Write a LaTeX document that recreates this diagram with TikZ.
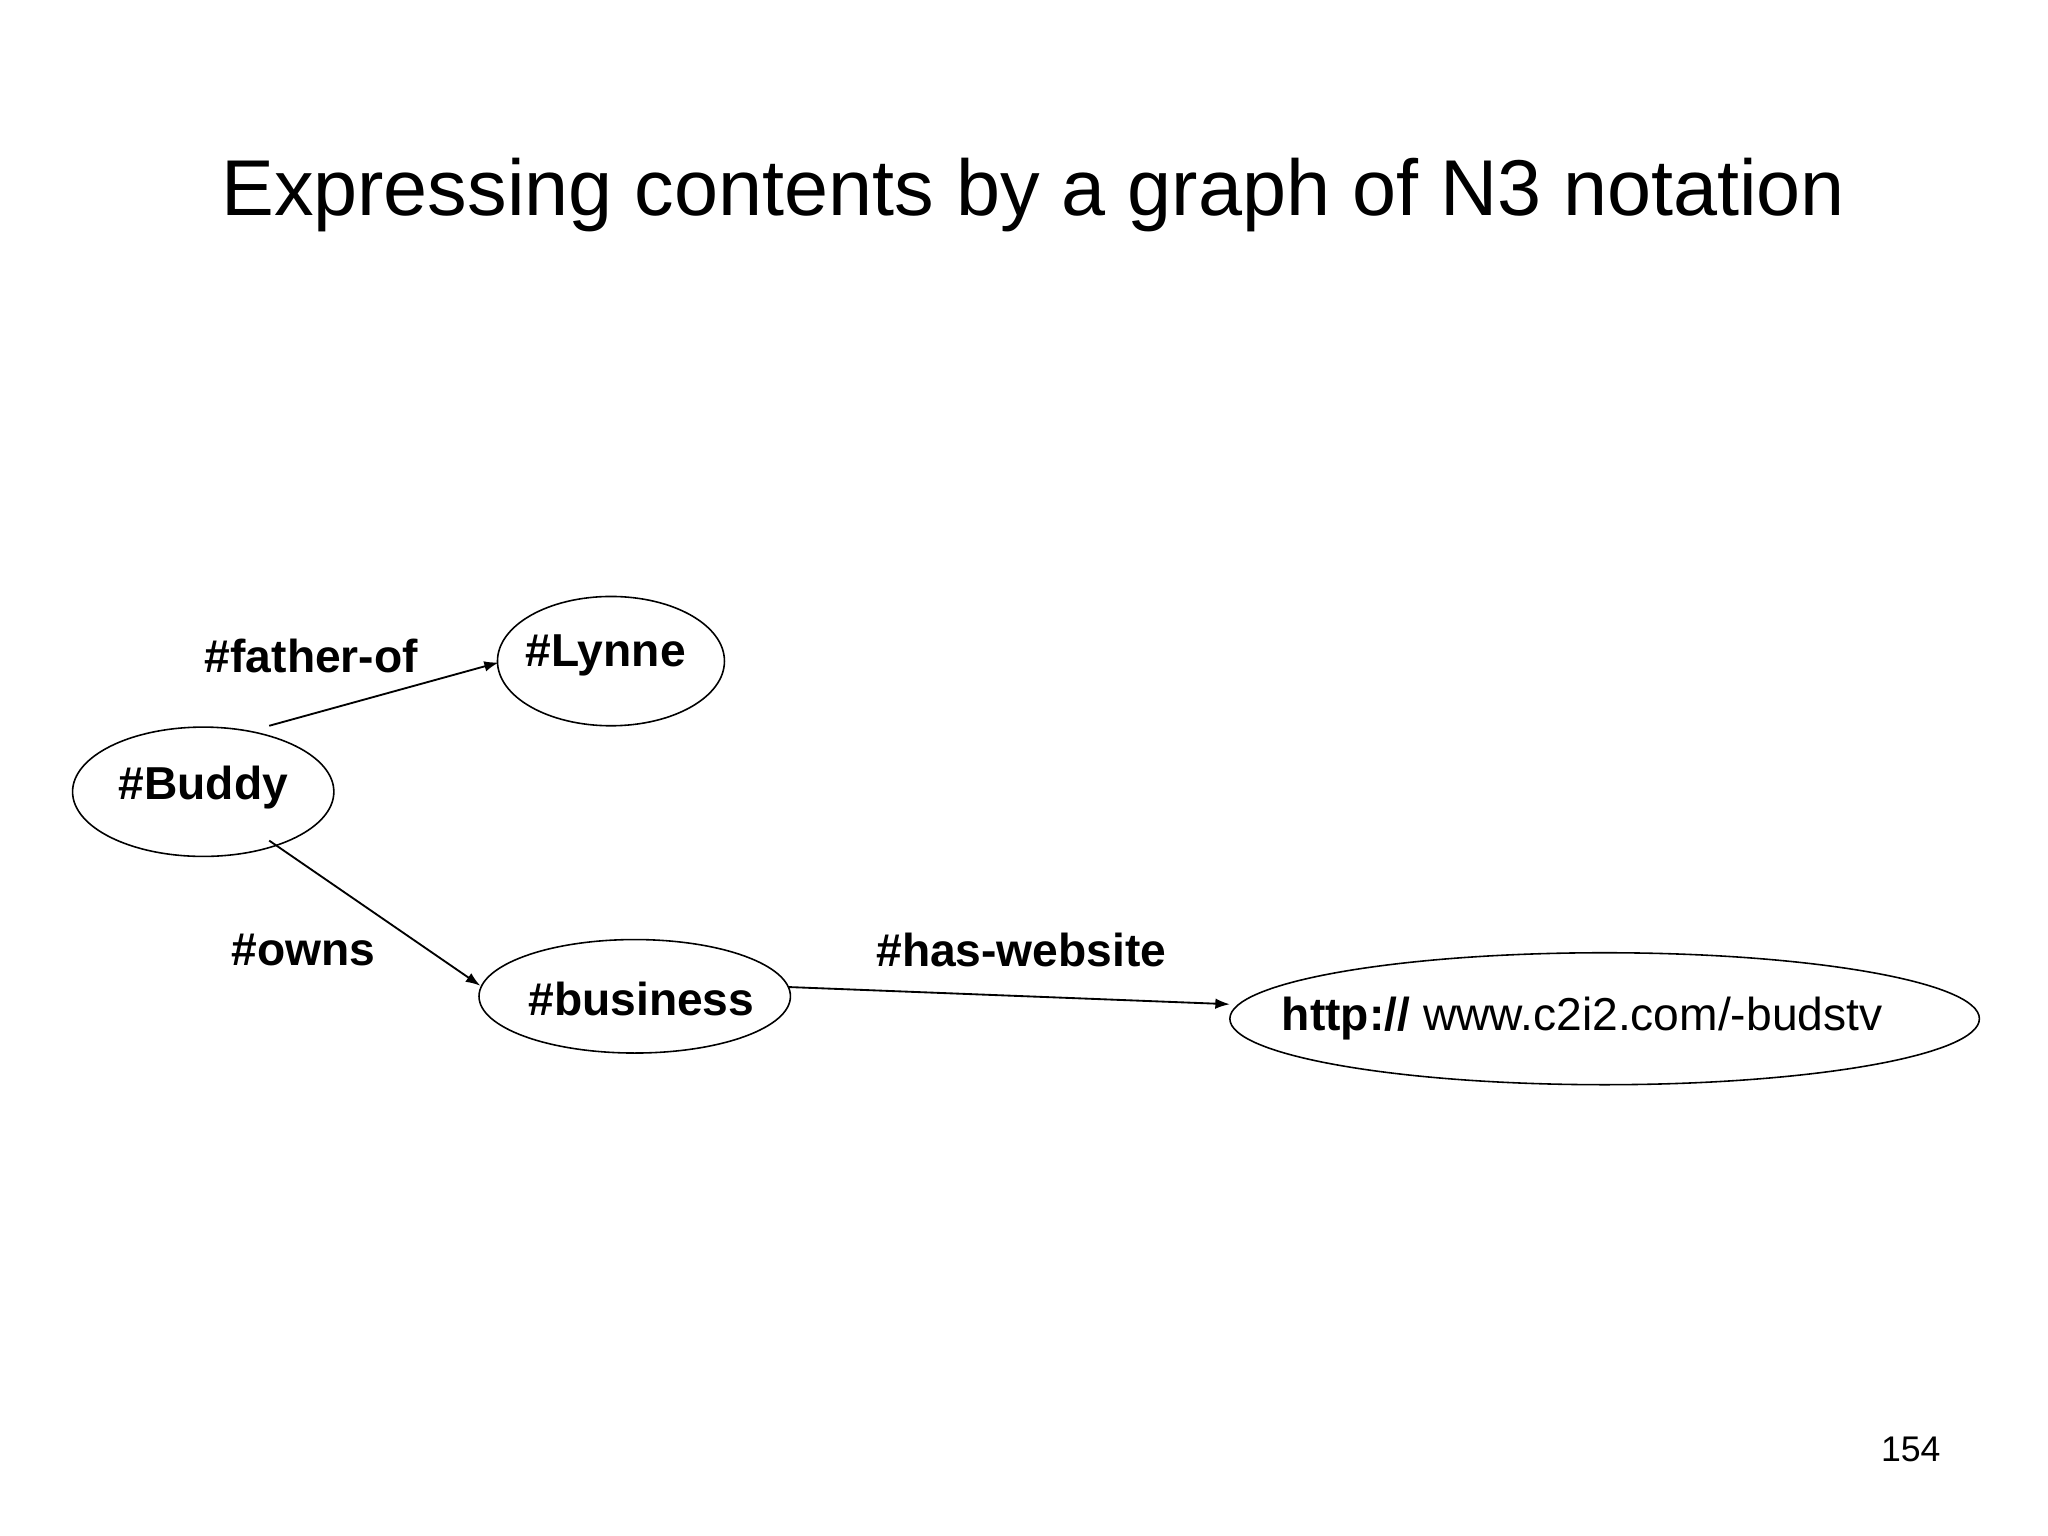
\documentclass[tikz,border=0pt]{standalone}
\usepackage{fontspec}
\setmainfont{Liberation Sans}
\usetikzlibrary{shapes.geometric,arrows.meta}
\begin{document}
\begin{tikzpicture}[x=1pt,y=-1pt,
  ell/.style={draw,ellipse,line width=1.2pt,inner sep=0pt},
  lbl/.style={font=\fontsize{35}{40}\selectfont\bfseries},
  arr/.style={line width=1.4pt,-{Latex[length=11pt,width=8pt]}}]
\useasboundingbox (0,0) rectangle (1552,1164);
\node[font=\fontsize{60}{70}\selectfont] (title) at (783,148) {Expressing contents by a graph of N3 notation};
\node[ell,minimum width=198pt,minimum height=98pt] (buddy) at (154,600) {};
\node[lbl] (tb) at (154,597) {\#Buddy};
\node[ell,minimum width=172pt,minimum height=98pt] (lynne) at (463,501) {};
\node[lbl] (tl) at (459,497) {\#Lynne};
\node[ell,minimum width=236pt,minimum height=86pt] (bus) at (481,755) {};
\node[lbl] (tbs) at (486,757) {\#business};
\node[ell,minimum width=568pt,minimum height=100pt] (url) at (1216,772) {};
\node[font=\fontsize{35}{40}\selectfont] (tu) at (1199,772) {\textbf{http://} www.c2i2.com/-budstv};
\coordinate (b1) at (204,550);
\coordinate (b2) at (204,637);
\coordinate (l1) at (378,502);
\coordinate (s1) at (364,747);
\coordinate (s2) at (598,748);
\coordinate (u1) at (932,761);
\draw[arr] (b1) -- (l1);
\draw[arr] (b2) -- (s1);
\draw[arr] (s2) -- (u1);
\node[lbl] (f) at (236,497) {\#father-of};
\node[lbl] (o) at (230,720) {\#owns};
\node[lbl] (h) at (774,720) {\#has-website};
\node[font=\fontsize{27}{30}\selectfont] (pg) at (1448,1098) {154};
\end{tikzpicture}
\end{document}
